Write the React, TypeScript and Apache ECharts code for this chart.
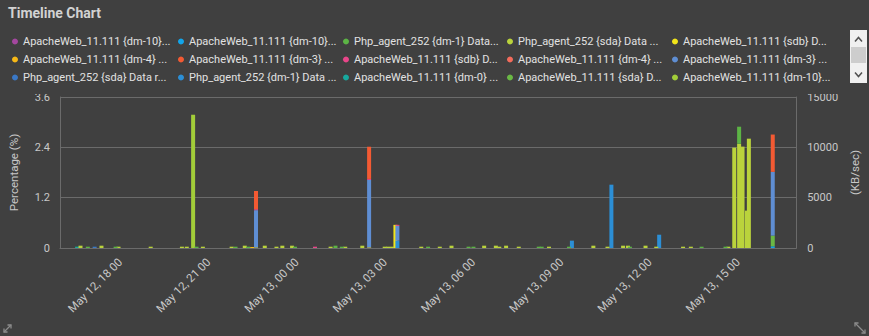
import React, { useEffect, useRef } from "react";
import * as echarts from "echarts";

// ---- data ----
const seriesNames = [
  "ApacheWeb_11.111 {dm-10} Data read",
  "ApacheWeb_11.111 {dm-10} Data Written",
  "Php_agent_252 {dm-1} Data Written",
  "Php_agent_252 {sda} Data Written",
  "ApacheWeb_11.111 {sdb} Data read",
  "ApacheWeb_11.111 {dm-4} Data read",
  "ApacheWeb_11.111 {dm-3} Data Written",
  "ApacheWeb_11.111 {sdb} Data Written",
  "ApacheWeb_11.111 {dm-4} Data Written",
  "ApacheWeb_11.111 {dm-3} Data read",
  "Php_agent_252 {sda} Data read",
  "Php_agent_252 {dm-1} Data read",
  "ApacheWeb_11.111 {dm-0} Data read",
  "ApacheWeb_11.111 {sda} Data read",
  "ApacheWeb_11.111 {dm-10} Data transferred",
];
const seriesColors = [
  "#a4479f", "#12a5ea", "#5cb445", "#bad33c", "#f2e51a",
  "#f6b817", "#f35a33", "#e9468a", "#f46c5c", "#5f8ed3",
  "#3a78c6", "#2c8fd6", "#17a89e", "#6ab845", "#a2cd39",
];
// stacking order (bottom to top), as indexes into seriesNames
const stackOrder = [12, 1, 4, 5, 0, 11, 10, 3, 14, 2, 13, 9, 7, 8, 6];

type Pt = [string, number];
const s1: Pt[] = [];
const s2: Pt[] = [["13 16:15", 170]];
const s3: Pt[] = [
  ["12 16:50", 130], ["12 17:47", 130], ["12 20:33", 130], ["12 21:53", 130],
  ["12 22:19", 130], ["12 23:55", 130], ["13 01:18", 230], ["13 01:31", 130],
  ["13 04:28", 130], ["13 05:51", 130], ["13 06:01", 130], ["13 08:15", 130],
  ["13 08:21", 130], ["13 09:17", 130], ["13 11:22", 130], ["13 13:49", 130],
  ["13 14:38", 130], ["13 15:06", 1690],
];
const s4: Pt[] = [
  ["12 16:35", 230], ["12 17:18", 230], ["12 17:53", 130], ["12 18:59", 130],
  ["12 20:03", 130], ["12 20:13", 130], ["12 20:46", 130], ["12 21:45", 130],
  ["12 22:12", 230], ["12 22:53", 230], ["12 23:17", 130], ["12 23:29", 230],
  ["12 23:49", 230], ["13 01:08", 130], ["13 01:38", 130], ["13 02:13", 230],
  ["13 02:59", 130], ["13 03:06", 130], ["13 03:14", 130], ["13 04:14", 130],
  ["13 04:52", 130], ["13 05:16", 230], ["13 06:23", 230], ["13 06:47", 230],
  ["13 06:54", 130], ["13 07:08", 230], ["13 07:34", 130], ["13 08:36", 130],
  ["13 10:07", 230], ["13 10:36", 130], ["13 11:08", 230], ["13 11:18", 230],
  ["13 11:54", 230], ["13 12:16", 130], ["13 13:11", 130], ["13 13:27", 130],
  ["13 14:44", 130], ["13 14:56", 9970], ["13 15:06", 10360], ["13 15:13", 10070],
  ["13 15:22", 3710], ["13 15:26", 10860],
];
const s5: Pt[] = [["12 22:35", 60], ["13 02:27", 60], ["13 03:21", 2300]];
const s6: Pt[] = [["12 22:27", 100]];
const s7: Pt[] = [["12 22:35", 1800], ["13 02:27", 3200], ["13 16:15", 3710]];
const s8: Pt[] = [["12 22:35", 100], ["13 00:36", 130], ["13 02:27", 100], ["13 03:25", 100]];
const s9: Pt[] = [];
const s10: Pt[] = [["12 22:35", 3700], ["13 02:27", 6700], ["13 03:25", 1470], ["13 16:15", 6330]];
const s11: Pt[] = [["12 17:04", 130]];
const s12: Pt[] = [["13 03:25", 730], ["13 09:23", 730], ["13 10:44", 6290], ["13 12:22", 1320]];
const s13: Pt[] = [["12 16:28", 130]];
const s14: Pt[] = [["13 16:15", 1060]];
const s15: Pt[] = [["12 20:26", 13240]];
const seriesData = [s1, s2, s3, s4, s5, s6, s7, s8, s9, s10, s11, s12, s13, s14, s15];

const axisStart = "12 15:57";
const axisEnd = "13 16:59";
const xTickTimes = ["12 18:00", "12 21:00", "13 00:00", "13 03:00", "13 06:00", "13 09:00", "13 12:00", "13 15:00"];
const leftTicks = { min: 0, max: 3.6, interval: 1.2 };
const rightTicks = { min: 0, max: 15000, interval: 5000 };
const MONTHS = ["Jan", "Feb", "Mar", "Apr", "May", "Jun", "Jul", "Aug", "Sep", "Oct", "Nov", "Dec"];

function ts(s: string): number {
  const [d, hm] = s.split(" ");
  const [h, m] = hm.split(":");
  return new Date(2024, 4, Number(d), Number(h), Number(m)).getTime();
}
const pad = (n: number) => (n < 10 ? "0" + n : "" + n);

const BG = "#404040";
const LINE = "#6b6b6b";
const TXT = "#c8c8c8";
const FONT = "Roboto";
const LEGEND_COLS = [12, 178, 343, 507, 672];

export default function App() {
  const ref = useRef<HTMLDivElement>(null);
  useEffect(() => {
    document.body.style.margin = "0";
    document.body.style.background = BG;
    const chart = echarts.init(ref.current!, null, { renderer: "svg" });
    // union of all timestamps so that stacking lines up by index
    const allTimes = Array.from(
      new Set(seriesData.flatMap((s) => s.map((p) => ts(p[0]))))
    ).sort((a, b) => a - b);
    const series = stackOrder.map((i) => {
      const m = new Map<number, number>();
      seriesData[i].forEach((p) => m.set(ts(p[0]), p[1]));
      return {
        name: seriesNames[i],
        type: "bar",
        stack: "total",
        xAxisIndex: 0,
        yAxisIndex: 1,
        barWidth: 4,
        itemStyle: { color: seriesColors[i] },
        data: allTimes.map((t) => [t, m.has(t) ? m.get(t) : 0]),
      };
    });
    const tickVals = xTickTimes.map(ts);
    const arrow = { stroke: "#8c8c8c", lineWidth: 1.3, fill: "none" };
    const legends = LEGEND_COLS.map((left, c) => ({
      type: "plain",
      orient: "vertical",
      left,
      top: 36,
      padding: 0,
      itemWidth: 6,
      itemHeight: 6,
      itemGap: 7,
      icon: "circle",
      data: [0, 1, 2].map((r) => seriesNames[r * 5 + c]),
      textStyle: {
        color: "#e2e2e2",
        fontSize: 11,
        fontFamily: FONT,
        width: 150,
        overflow: "truncate",
        ellipsis: "...",
      },
    }));
    chart.setOption({
      animation: false,
      backgroundColor: BG,
      textStyle: { fontFamily: FONT },
      title: {
        text: "Timeline Chart",
        left: 8,
        top: 6,
        padding: 0,
        textStyle: { color: "#d2d2d2", fontSize: 14, fontWeight: "bold", fontFamily: FONT },
      },
      legend: legends,
      grid: { left: 53, right: 72, top: 97, bottom: 88, containLabel: false },
      xAxis: [
        {
          // time axis carrying the bars (stacked)
          type: "time",
          min: ts(axisStart),
          max: ts(axisEnd),
          position: "bottom",
          axisLine: { show: true, lineStyle: { color: LINE } },
          axisTick: { show: false },
          axisLabel: { show: false },
          splitLine: { show: false },
        },
        {
          // same extent, only for the 3-hour labels
          type: "value",
          min: ts(axisStart),
          max: ts(axisEnd),
          position: "bottom",
          axisLine: { show: false },
          axisTick: { show: false, customValues: tickVals },
          splitLine: { show: false },
          axisLabel: {
            customValues: tickVals,
            rotate: 45,
            margin: 12,
            color: TXT,
            fontSize: 11.5,
            fontFamily: FONT,
            formatter: (v: number) => {
              const d = new Date(v);
              return `${MONTHS[d.getMonth()]} ${d.getDate()}, ${pad(d.getHours())} ${pad(d.getMinutes())}`;
            },
          },
        },
      ],
      yAxis: [
        {
          type: "value",
          ...leftTicks,
          name: "Percentage (%)",
          nameLocation: "middle",
          nameGap: 40,
          nameTextStyle: { color: TXT, fontSize: 11.5, fontFamily: FONT },
          axisLine: { show: true, lineStyle: { color: LINE } },
          axisTick: { show: false },
          splitLine: { show: true, lineStyle: { color: LINE } },
          axisLabel: { color: TXT, fontSize: 11, margin: 10, fontFamily: FONT },
        },
        {
          type: "value",
          ...rightTicks,
          name: "(KB/sec)",
          nameLocation: "middle",
          nameGap: 49,
          nameTextStyle: { color: TXT, fontSize: 11.5, fontFamily: FONT },
          axisLine: { show: true, lineStyle: { color: LINE } },
          axisTick: { show: false },
          splitLine: { show: false },
          axisLabel: {
            color: TXT,
            fontSize: 11,
            margin: 11,
            fontFamily: FONT,
            formatter: (v: number) => String(v),
          },
        },
      ],
      series,
      graphic: [
        { type: "rect", z: 100, shape: { x: 0, y: 83, width: 848, height: 11 }, style: { fill: BG } },
        { type: "rect", z: 100, shape: { x: 850, y: 30, width: 17, height: 53 }, style: { fill: "#f0f0f0" } },
        { type: "rect", z: 101, shape: { x: 851, y: 47, width: 15, height: 16 }, style: { fill: "#cdcdcd" } },
        { type: "polyline", z: 101, shape: { points: [[855, 41.5], [858.5, 37.5], [862, 41.5]] }, style: { stroke: "#505050", lineWidth: 1.5, fill: "none" } },
        { type: "polyline", z: 101, shape: { points: [[855, 72.5], [858.5, 76.5], [862, 72.5]] }, style: { stroke: "#505050", lineWidth: 1.5, fill: "none" } },
        // bottom-left corner icon
        { type: "line", z: 100, shape: { x1: 4, y1: 332, x2: 11, y2: 325 }, style: arrow },
        { type: "polyline", z: 100, shape: { points: [[4, 328.5], [4, 332], [7.5, 332]] }, style: arrow },
        { type: "polyline", z: 100, shape: { points: [[7.5, 325], [11, 325], [11, 328.5]] }, style: arrow },
        // bottom-right corner icon
        { type: "line", z: 100, shape: { x1: 855, y1: 323, x2: 865, y2: 333 }, style: arrow },
        { type: "polyline", z: 100, shape: { points: [[855, 326.5], [855, 323], [858.5, 323]] }, style: arrow },
        { type: "polyline", z: 100, shape: { points: [[861.5, 333], [865, 333], [865, 329.5]] }, style: arrow },
      ],
    });
    return () => chart.dispose();
  }, []);
  return <div ref={ref} style={{ width: 869, height: 336, background: BG }} />;
}
